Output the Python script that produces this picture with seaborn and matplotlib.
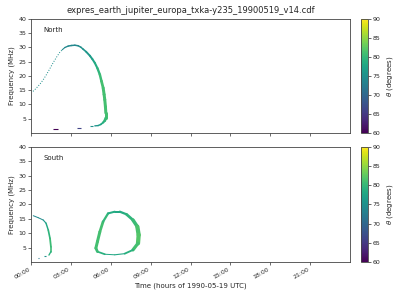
import numpy as np
import matplotlib
matplotlib.use("Agg")
import matplotlib.pyplot as plt
import seaborn as sns
import pandas as pd
from matplotlib.collections import LineCollection
from matplotlib.colors import Normalize

sns.set_style("ticks")
plt.rcParams['font.family'] = ['DejaVu Sans']

title = "expres_earth_jupiter_europa_txka-y235_19900519_v14.cdf"
xtick_hours = [0, 3, 6, 9, 12, 15, 18, 21]
xtick_labels = ["00:00", "03:00", "06:00", "09:00", "12:00", "15:00", "18:00", "21:00"]
ytick_vals = [5, 10, 15, 20, 25, 30, 35, 40]
cbar_ticks = [60, 65, 70, 75, 80, 85, 90]

# North: dotted rising branch (time h, freq MHz, theta deg)
n_dot_t = [0.15, 0.35, 0.55, 0.75, 0.95, 1.15, 1.35, 1.55, 1.75, 1.95, 2.15, 2.35]
n_dot_f = [14.6, 15.5, 16.5, 17.6, 18.9, 20.4, 22.0, 23.7, 25.3, 26.8, 28.2, 29.2]
n_dot_th = [75, 75, 75, 75, 75, 75, 75, 75, 75, 75, 75, 74]

# North: main arc
n_arc_t = [2.35, 2.55, 2.8, 3.05, 3.3, 3.55, 3.75, 3.9, 4.15, 4.43, 4.62, 4.8, 5.0, 5.18, 5.3,
           5.43, 5.5, 5.55, 5.6, 5.63, 5.63, 5.55, 5.43, 5.25, 5.05, 4.8]
n_arc_f = [29.2, 30.0, 30.5, 30.7, 30.8, 30.6, 30.1, 29.5, 28.5, 27.1, 25.9, 24.6, 22.7, 20.5, 18.2,
           15.8, 13.5, 11.7, 9.2, 7.0, 5.3, 4.3, 3.7, 3.0, 2.6, 2.5]
n_arc_th = [74, 74, 74, 74, 74, 74, 75, 75, 76, 76, 77, 78, 79, 80, 81,
            81, 81, 81, 81, 81, 81, 80, 79, 78, 76, 75]
n_arc_w = [1, 1.2, 1.5, 1.5, 1.5, 1.5, 1.5, 1.5, 1.8, 2, 2, 2, 2.2, 2.5, 2.5,
           3, 3, 3, 3, 3, 3, 2.5, 2, 1.5, 1.5, 1.2]

# North: short low-frequency dashes (t_start, t_end, freq, theta)
n_dash_t0 = [1.65, 3.47, 4.42]
n_dash_t1 = [2.0, 3.75, 4.68]
n_dash_f = [1.4, 1.85, 2.3]
n_dash_th = [60, 66, 75]

# South: left curve
s_left_t = [0.17, 0.55, 0.92, 1.13, 1.3, 1.43, 1.5, 1.5, 1.35]
s_left_f = [16.1, 15.4, 14.6, 13.5, 11.1, 8.2, 5.3, 3.6, 2.4]
s_left_th = [74, 74, 75, 77, 79, 80, 81, 80, 78]
s_left_w = [1, 1, 1, 1.3, 1.6, 1.8, 1.8, 1.5, 1.2]

s_dash_t0 = [0.5, 0.95]
s_dash_t1 = [0.6, 1.15]
s_dash_f = [1.5, 2.0]
s_dash_th = [72, 75]

# South: loop
s_loop_t = [6.3, 6.68, 7.18, 7.67, 8.0, 8.1, 8.05, 7.67, 7.05, 6.3, 5.55, 5.0, 4.88, 5.0, 5.18, 5.42, 5.8, 6.3]
s_loop_f = [17.5, 17.5, 16.6, 14.6, 12.3, 9.4, 6.5, 4.2, 2.9, 2.5, 2.7, 3.6, 4.8, 7.1, 10.5, 14.0, 16.9, 17.5]
s_loop_th = [78, 78, 79, 80, 81, 82, 82, 80, 78, 78, 78, 80, 81, 81, 81, 81, 79, 78]
s_loop_w = [2, 2, 2.5, 3, 4, 4.5, 4, 2.5, 1.2, 1, 1, 2.5, 3, 3, 3, 2.5, 2, 2]

cmap = plt.get_cmap("viridis")
norm = Normalize(60, 90)
PX = 0.72  # points per pixel at dpi 100

fig = plt.figure(figsize=(4, 3), dpi=100)
ax1 = fig.add_axes([0.0775, 0.5567, 0.7975, 0.38])
ax2 = fig.add_axes([0.0775, 0.1267, 0.7975, 0.3833])
cax1 = fig.add_axes([0.9025, 0.5567, 0.0175, 0.38])
cax2 = fig.add_axes([0.9025, 0.1267, 0.0175, 0.3833])


def draw_path(ax, t, f, th, w):
    pts = np.column_stack([t, f])
    segs = np.stack([pts[:-1], pts[1:]], axis=1)
    th = np.asarray(th, float)
    w = np.asarray(w, float)
    lc = LineCollection(segs, cmap=cmap, norm=norm, capstyle="round", joinstyle="round")
    lc.set_array((th[:-1] + th[1:]) / 2)
    lc.set_linewidths((w[:-1] + w[1:]) / 2 * PX)
    ax.add_collection(lc)


def draw_dashes(ax, t0, t1, f, th):
    for a, b, ff, tt in zip(t0, t1, f, th):
        ax.plot([a, b], [ff, ff], color=cmap(norm(tt)), lw=1.1 * PX, solid_capstyle="butt")


df_dots = pd.DataFrame({"t": n_dot_t, "f": n_dot_f, "theta": n_dot_th})
sns.lineplot(data=df_dots, x="t", y="f", color=cmap(norm(np.mean(n_dot_th))), lw=1.0 * PX,
             linestyle=(0, (1.0, 1.6)), sort=False, estimator=None, ax=ax1)
draw_path(ax1, n_arc_t, n_arc_f, n_arc_th, n_arc_w)
draw_dashes(ax1, n_dash_t0, n_dash_t1, n_dash_f, n_dash_th)

draw_path(ax2, s_left_t, s_left_f, s_left_th, s_left_w)
draw_dashes(ax2, s_dash_t0, s_dash_t1, s_dash_f, s_dash_th)
draw_path(ax2, s_loop_t, s_loop_f, s_loop_th, s_loop_w)

for ax, name in [(ax1, "North"), (ax2, "South")]:
    ax.set_xlim(0, 24)
    ax.set_ylim(0, 40)
    ax.set_yticks(ytick_vals)
    ax.set_xticks(xtick_hours)
    ax.tick_params(labelsize=4.5, length=2, width=0.5, color="#333333", pad=1.5)
    ax.set_ylabel("Frequency (MHz)", fontsize=5, labelpad=2)
    ax.set_xlabel("")
    for sp in ax.spines.values():
        sp.set_visible(True)
        sp.set_linewidth(0.6)
        sp.set_color("#444444")
    ax.text(0.04, 0.9, name, transform=ax.transAxes, fontsize=5, va="center", ha="left", color="#222222")

ax1.set_xticklabels([])
ax2.set_xticklabels(xtick_labels, rotation=30, ha="right")
ax2.set_xlabel("Time (hours of 1990-05-19 UTC)", fontsize=5, labelpad=2)
ax1.set_title(title, fontsize=6, pad=4)

sm = plt.cm.ScalarMappable(norm=norm, cmap=cmap)
for cax in (cax1, cax2):
    cb = fig.colorbar(sm, cax=cax)
    cb.set_ticks(cbar_ticks)
    cb.ax.tick_params(labelsize=4.5, length=2, width=0.5, pad=1.5)
    cb.set_label(r"$\theta$ (degrees)", fontsize=5, labelpad=3)
    cb.outline.set_linewidth(0.6)
    cb.outline.set_edgecolor("#444444")

fig.savefig("out.png", dpi=100)
